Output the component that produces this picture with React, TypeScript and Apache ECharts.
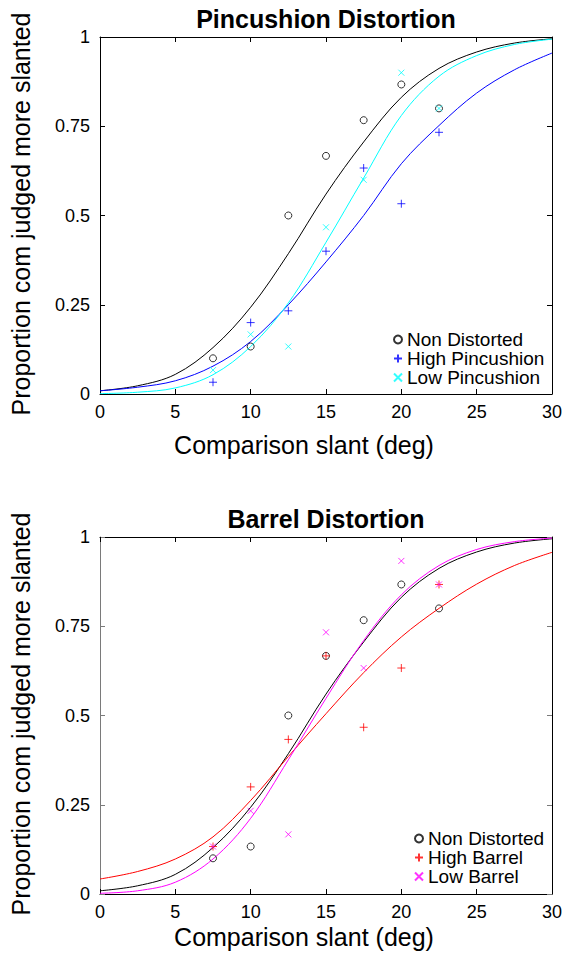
import React, { useEffect, useRef } from "react";
import * as echarts from "echarts";

// ---- data ----
const pointX = [7.5, 10, 12.5, 15, 17.5, 20, 22.5];
const nonDistorted = [0.1, 0.133, 0.5, 0.667, 0.767, 0.867, 0.8];
const highPincushion = [0.033, 0.2, 0.233, 0.4, 0.633, 0.533, 0.733];
const lowPincushion = [0.067, 0.167, 0.133, 0.467, 0.6, 0.9, 0.8];
const highBarrel = [0.133, 0.3, 0.433, 0.667, 0.467, 0.633, 0.867];
const lowBarrel = [0.133, 0.233, 0.167, 0.733, 0.633, 0.933, 0.867];

// fitted psychometric curves
const fitX = [0, 2.5, 5, 7.5, 10, 12.5, 15, 17.5, 20, 22.5, 25, 27.5, 30];
const nonDistortedFit = [0.009, 0.023, 0.055, 0.13, 0.243, 0.393, 0.56, 0.706, 0.831, 0.912, 0.958, 0.983, 0.995];
const highPincushionFit = [0.009, 0.019, 0.037, 0.078, 0.147, 0.25, 0.37, 0.5, 0.645, 0.752, 0.843, 0.908, 0.955];
const lowPincushionFit = [0.001, 0.005, 0.017, 0.054, 0.133, 0.255, 0.425, 0.605, 0.78, 0.89, 0.948, 0.979, 0.994];
const highBarrelFit = [0.042, 0.063, 0.098, 0.16, 0.262, 0.385, 0.505, 0.62, 0.72, 0.8, 0.868, 0.92, 0.957];
const lowBarrelFit = [0.002, 0.009, 0.033, 0.098, 0.212, 0.376, 0.548, 0.71, 0.838, 0.92, 0.965, 0.987, 0.997];

const panelTitles = ["Pincushion Distortion", "Barrel Distortion"];
const xTitle = "Comparison slant (deg)";
const yTitle = "Proportion com judged more slanted";
const topLegend = ["Non Distorted", "High Pincushion", "Low Pincushion"];
const bottomLegend = ["Non Distorted", "High Barrel", "Low Barrel"];

const FONT = '"Liberation Sans", Arial, Helvetica, sans-serif';
const PLUS = "path://M0,-4L0,4M-4,0L4,0";
const CROSS = "path://M-4,-4L4,4M-4,4L4,-4";

function pts(xs: number[], ys: number[]) {
  return xs.map((x, i) => [x, ys[i]]);
}

export default function App() {
  const ref = useRef<HTMLDivElement>(null);
  useEffect(() => {
    const chart = echarts.init(ref.current!, null, { renderer: "svg" });

    const grids = [
      { left: 100, top: 37, width: 452, height: 357 },
      { left: 100, top: 537, width: 452, height: 357 },
    ];

    const xAxisBase = (grid: number, pos: string, labels: boolean) => ({
      type: "value",
      gridIndex: grid,
      position: pos,
      min: 0,
      max: 30,
      interval: 5,
      axisLine: { show: true, onZero: false, lineStyle: { color: "#000", width: 1 } },
      axisTick: { show: true, inside: true, length: 5, lineStyle: { color: "#000" } },
      splitLine: { show: false },
      axisLabel: { show: labels, fontSize: 18, color: "#000", fontFamily: FONT, margin: 9 },
    });
    const yAxisBase = (grid: number, pos: string, labels: boolean, color: string, tickColor: string) => ({
      type: "value",
      gridIndex: grid,
      position: pos,
      min: 0,
      max: 1,
      interval: 0.25,
      axisLine: { show: true, onZero: false, lineStyle: { color, width: 1 } },
      axisTick: { show: true, inside: true, length: 5, lineStyle: { color: tickColor } },
      splitLine: { show: false },
      axisLabel: { show: labels, fontSize: 18, color: "#000", fontFamily: FONT, margin: 10 },
    });

    const lineS = (name: string, data: number[], color: string, axis: number) => ({
      name,
      type: "line",
      xAxisIndex: axis,
      yAxisIndex: axis,
      data: pts(fitX, data),
      showSymbol: false,
      symbol: "none",
      smooth: 0.35,
      lineStyle: { color, width: 1 },
      silent: true,
      z: 2,
    });
    const scatterS = (name: string, data: number[], color: string, symbol: string, size: number, axis: number) => ({
      name,
      type: "scatter",
      xAxisIndex: axis,
      yAxisIndex: axis,
      data: pts(pointX, data),
      symbol,
      symbolSize: size,
      itemStyle: { color: "transparent", borderColor: color, borderWidth: 1 },
      silent: true,
      z: 3,
    });

    const titleText = (text: string, y: number) => ({
      type: "text",
      x: 326,
      y,
      style: { text, fontSize: 25, fontWeight: "bold", fontFamily: FONT, fill: "#000", align: "center", verticalAlign: "middle" },
    });
    const xTitleText = (y: number) => ({
      type: "text",
      x: 304,
      y,
      style: { text: xTitle, fontSize: 25, fontFamily: FONT, fill: "#000", align: "center", verticalAlign: "middle" },
    });
    const yTitleText = (y: number) => ({
      type: "text",
      x: 21,
      y,
      rotation: Math.PI / 2,
      style: { text: yTitle, fontSize: 25, fontFamily: FONT, fill: "#000", align: "center", verticalAlign: "middle" },
    });

    const legendBase = (data: string[], left: number, top: number) => ({
      data,
      orient: "vertical",
      left,
      top,
      padding: 0,
      itemWidth: 8,
      itemHeight: 8,
      itemGap: 0,
      selectedMode: false,
      textStyle: { fontSize: 19, lineHeight: 18, color: "#000", fontFamily: FONT },
    });

    chart.setOption({
      animation: false,
      backgroundColor: "#fff",
      grid: grids,
      xAxis: [
        xAxisBase(0, "bottom", true),
        xAxisBase(0, "top", false),
        xAxisBase(1, "bottom", true),
        xAxisBase(1, "top", false),
      ],
      yAxis: [
        yAxisBase(0, "left", true, "#000", "#000"),
        yAxisBase(0, "right", false, "#000", "#000"),
        yAxisBase(1, "left", true, "#7a7a7a", "#7a7a7a"),
        yAxisBase(1, "right", false, "#000", "#7a7a7a"),
      ],
      legend: [legendBase(topLegend, 393, 330), legendBase(bottomLegend, 414, 829)],
      graphic: [
        titleText(panelTitles[0], 18.5),
        titleText(panelTitles[1], 518.5),
        xTitleText(445),
        xTitleText(937),
        yTitleText(214),
        yTitleText(714),
      ],
      series: [
        lineS("fit Non Distorted", nonDistortedFit, "#000000", 0),
        lineS("fit High Pincushion", highPincushionFit, "#0000ff", 0),
        lineS("fit Low Pincushion", lowPincushionFit, "#00ffff", 0),
        scatterS("Non Distorted", nonDistorted, "#000000", "circle", 7, 0),
        scatterS("High Pincushion", highPincushion, "#0000ff", PLUS, 8, 0),
        scatterS("Low Pincushion", lowPincushion, "#00ffff", CROSS, 6, 0),
        lineS("fit Non Distorted B", nonDistortedFit, "#000000", 2),
        lineS("fit High Barrel", highBarrelFit, "#ff0000", 2),
        lineS("fit Low Barrel", lowBarrelFit, "#ff00ff", 2),
        scatterS("Non Distorted", nonDistorted, "#000000", "circle", 7, 2),
        scatterS("High Barrel", highBarrel, "#ff0000", PLUS, 8, 2),
        scatterS("Low Barrel", lowBarrel, "#ff00ff", CROSS, 6, 2),
      ],
    });
    return () => chart.dispose();
  }, []);
  return (
    <div
      ref={ref}
      style={{ position: "fixed", left: 0, top: 0, width: 566, height: 959, background: "#fff" }}
    />
  );
}
